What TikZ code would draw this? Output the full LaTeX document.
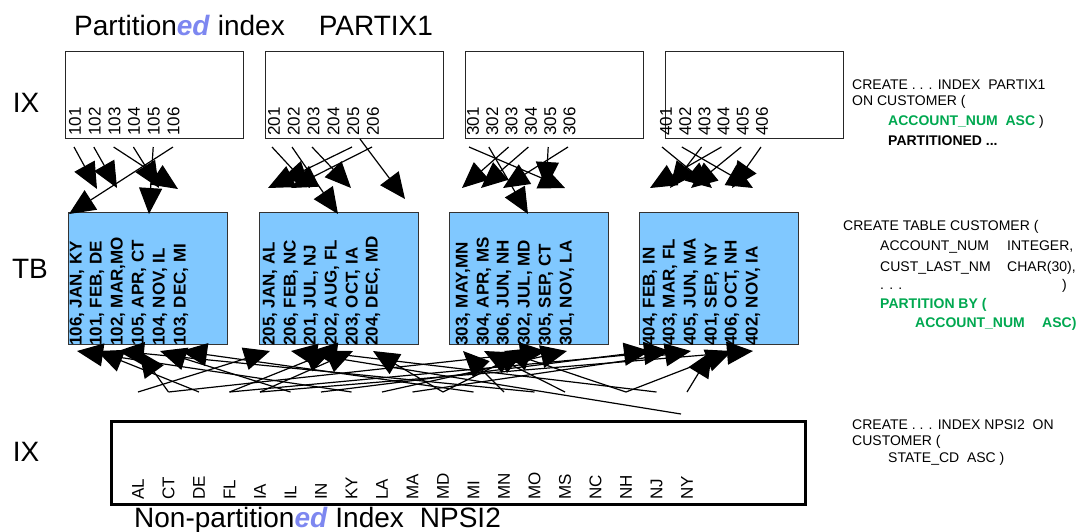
\documentclass[tikz,border=0pt]{standalone}
\usepackage{fontspec}
\setmainfont{Liberation Sans}
\usetikzlibrary{arrows.meta}
\definecolor{tbfill}{RGB}{128,200,255}
\definecolor{edblue}{RGB}{125,135,240}
\definecolor{sqlgreen}{RGB}{0,168,80}
\begin{document}
\begin{tikzpicture}[x=1pt,y=-1pt,
  big/.style={font=\fontsize{28}{30}\selectfont, inner sep=0},
  ixbox/.style={draw=black!85, line width=1pt, anchor=north west, minimum width=178pt, minimum height=87pt, inner sep=0},
  tbbox/.style={draw=black!80, fill=tbfill, line width=1.2pt, anchor=north west, minimum width=159pt, minimum height=132pt, inner sep=0},
  npbox/.style={draw=black, line width=2.5pt, anchor=north west, minimum width=694pt, minimum height=83pt, inner sep=0},
  key/.style={font=\fontsize{17}{17}\selectfont, rotate=90, anchor=west, inner sep=0},
  rowtxt/.style={font=\bfseries\fontsize{17}{17}\selectfont, rotate=90, anchor=west, inner sep=0},
  sql/.style={font=\fontsize{14}{17}\selectfont, anchor=base west, inner sep=0},
  arr/.style={line width=1.2pt, -{Triangle[length=26pt,width=23pt]}},
  ]
\useasboundingbox (0,0) rectangle (1079,531);

% titles and side labels
\node[big, anchor=base west] (title1) at (74,35) {Partition\textcolor{edblue}{\textbf{\textit{ed}}} index\hspace{34pt}PARTIX1};
\node[big, anchor=base west] (title2) at (134,527) {Non-partition\textcolor{edblue}{\textbf{\textit{ed}}} Index\hspace{16pt}NPSI2};
\node[big] (lix1) at (26,103) {IX};
\node[big] (ltb) at (30,269) {TB};
\node[big] (lix2) at (26,452) {IX};

% partitioned index boxes
\node[ixbox] (ix1) at (65,51) {};
\node[ixbox] (ix2) at (265,51) {};
\node[ixbox] (ix3) at (465,51) {};
\node[ixbox] (ix4) at (665,51) {};
\foreach \n [count=\i from 0] in {101,102,103,104,105,106} {\node[key] (k\n) at ({75+19.7*\i},136) {\n};}
\foreach \n [count=\i from 0] in {201,202,203,204,205,206} {\node[key] (k\n) at ({274+19.8*\i},136) {\n};}
\foreach \n [count=\i from 0] in {301,302,303,304,305,306} {\node[key] (k\n) at ({473+19.3*\i},136) {\n};}
\foreach \n [count=\i from 0] in {401,402,403,404,405,406} {\node[key] (k\n) at ({666+19.2*\i},136) {\n};}

% table partitions
\node[tbbox] (tb1) at (68,212) {};
\node[tbbox] (tb2) at (259,212) {};
\node[tbbox] (tb3) at (449,212) {};
\node[tbbox] (tb4) at (639,212) {};
\node[rowtxt] (r106) at (77,346) {106, JAN, KY};
\node[rowtxt] (r101) at (97,346) {101, FEB, DE};
\node[rowtxt] (r102) at (118,346) {102, MAR,MO};
\node[rowtxt] (r105) at (139,346) {105, APR, CT};
\node[rowtxt] (r104) at (160,346) {104, NOV, IL};
\node[rowtxt] (r103) at (181,346) {103, DEC, MI};
\node[rowtxt] (r205) at (270,346) {205, JAN, AL};
\node[rowtxt] (r206) at (291,346) {206, FEB, NC};
\node[rowtxt] (r201) at (311,346) {201, JUL, NJ};
\node[rowtxt] (r202) at (332,346) {202, AUG, FL};
\node[rowtxt] (r203) at (353,346) {203, OCT, IA};
\node[rowtxt] (r204) at (373,346) {204, DEC, MD};
\node[rowtxt] (r303) at (463,346) {303, MAY,MN};
\node[rowtxt] (r304) at (484,346) {304, APR, MS};
\node[rowtxt] (r306) at (504,346) {306, JUN, NH};
\node[rowtxt] (r302) at (525,346) {302, JUL, MD};
\node[rowtxt] (r305) at (546,346) {305, SEP, CT};
\node[rowtxt] (r301) at (567,346) {301, NOV, LA};
\node[rowtxt] (r404) at (650,346) {404, FEB, IN};
\node[rowtxt] (r403) at (670,346) {403, MAR, FL};
\node[rowtxt] (r405) at (691,346) {405, JUN, MA};
\node[rowtxt] (r401) at (712,346) {401, SEP, NY};
\node[rowtxt] (r406) at (732,346) {406, OCT, NH};
\node[rowtxt] (r402) at (753,346) {402, NOV, IA};

% non-partitioned index
\node[npbox] (np) at (110,420) {};
\foreach \s [count=\i from 0] in {AL,CT,DE,FL,IA,IL,IN,KY,LA,MA,MD,MI,MN,MO,MS,NC,NH,NJ,NY} {
  \node[key] (n\s) at ({138+30.5*\i},500) {\s};
  \coordinate (s\s) at ({138+30.5*\i},392);
}
\coordinate (sNC) at (681,414);

% SQL texts
\node[sql] (q1a) at (852,89) {CREATE . . . INDEX\ \ PARTIX1};
\node[sql] (q1b) at (852,105) {ON CUSTOMER (};
\node[sql] (q1c) at (888,125) {\textcolor{sqlgreen}{\textbf{ACCOUNT\_NUM\ \ ASC}} )};
\node[sql] (q1d) at (888,145) {\textbf{PARTITIONED ...}};

\node[sql] (q2a) at (843,230) {CREATE TABLE CUSTOMER (};
\node[sql] (q2b) at (880,250) {ACCOUNT\_NUM};
\node[sql] (q2c) at (1007,250) {INTEGER,};
\node[sql] (q2d) at (880,271) {CUST\_LAST\_NM};
\node[sql] (q2e) at (1007,271) {CHAR(30),};
\node[sql] (q2f) at (880,289) {. . .};
\node[sql] (q2g) at (1062,289) {)};
\node[sql] (q2h) at (880,308) {\textcolor{sqlgreen}{\textbf{PARTITION BY (}}};
\node[sql] (q2i) at (915,327) {\textcolor{sqlgreen}{\textbf{ACCOUNT\_NUM}}};
\node[sql] (q2j) at (1042,327) {\textcolor{sqlgreen}{\textbf{ASC)}}};

\node[sql] (q3a) at (852,429) {CREATE . . . INDEX NPSI2\ \ ON};
\node[sql] (q3b) at (852,445) {CUSTOMER (};
\node[sql] (q3c) at (888,462) {STATE\_CD\ \ ASC )};

% top connector end points
\foreach \n [count=\i from 0] in {101,102,103,104,105,106} {\coordinate (s\n) at ({74+19.8*\i},147);}
\foreach \n [count=\i from 0] in {201,202,203,204,205,206} {\coordinate (s\n) at ({272+20*\i},147);}
\foreach \n [count=\i from 0] in {301,302,303,304,305,306} {\coordinate (s\n) at ({469+19.8*\i},147);}
\foreach \n [count=\i from 0] in {401,402,403,404,405,406} {\coordinate (s\n) at ({662+19.8*\i},147);}
\coordinate (s204) at (360,139);
\coordinate (t101) at (97,189);
\coordinate (t102) at (117,188);
\coordinate (t103) at (178,189);
\coordinate (t104) at (159,188);
\coordinate (t105) at (149,214);
\coordinate (t106) at (69,214);
\coordinate (t201) at (310,188);
\coordinate (t202) at (338,214);
\coordinate (t203) at (351,188);
\coordinate (t204) at (405,199);
\coordinate (t205) at (268,188);
\coordinate (t206) at (291,188);
\coordinate (t301) at (565,188);
\coordinate (t302) at (528,214);
\coordinate (t303) at (462,188);
\coordinate (t304) at (481,188);
\coordinate (t305) at (546,188);
\coordinate (t306) at (503,188);
\coordinate (t401) at (712,188);
\coordinate (t402) at (753,188);
\coordinate (t403) at (670,188);
\coordinate (t404) at (650,188);
\coordinate (t405) at (691,188);
\coordinate (t406) at (732,188);
\foreach \n in {101,102,103,104,105,106,201,202,203,204,205,206,301,302,303,304,305,306,401,402,403,404,405,406} {\draw[arr] (s\n) -- (t\n);}

% bottom connector tips
\foreach \n/\x in {106/77,101/97,102/118,105/139,104/160,103/181,205/270,206/291,201/311,202/332,203/353,204/373,303/463,304/484,306/504,302/525,305/546,301/567,404/650,403/670,405/691,401/712,406/732,402/753} {\coordinate (b\n) at (\x,351);}
\foreach \s/\n in {KY/106,DE/101,MO/102,CT/105,IL/104,MI/103,AL/205,NC/206,NJ/201,FL/202,IA/203,MD/204,MN/303,MS/304,NH/306,MD/302,CT/305,LA/301,IN/404,FL/403,MA/405,NY/401,NH/406,IA/402} {\draw[arr] (s\s) -- (b\n);}
\end{tikzpicture}
\end{document}
